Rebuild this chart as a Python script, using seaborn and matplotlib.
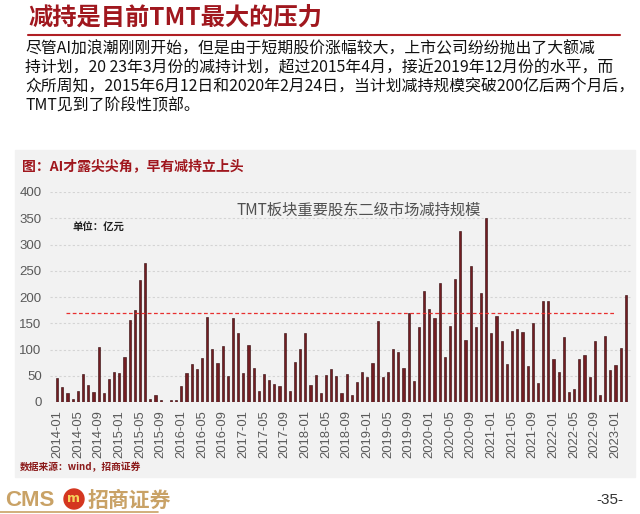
import matplotlib
matplotlib.use("Agg")
import matplotlib.pyplot as plt
from matplotlib.patches import Rectangle, Ellipse
from matplotlib.lines import Line2D
import seaborn as sns
import pandas as pd

# ---------------- data ----------------
months = [d.strftime("%Y-%m") for d in pd.date_range("2014-01-01", "2023-03-01", freq="MS")]
values = [
    46.5, 28, 18, 6, 21, 53, 33, 19, 105, 18, 43, 58, 55, 86, 157, 175, 232, 265,
    6, 13, 3, 0, 3, 3,
    30, 56, 72, 63, 83, 162, 101, 75, 106, 50, 160, 131, 55, 109, 64,
    21, 53, 42, 34, 31, 132, 21, 76, 101, 132, 33, 51, 17, 51, 62, 50, 17, 53,
    14, 38, 58, 48, 75, 155, 47, 57, 101, 95, 64, 169, 40, 143, 212, 177, 160, 227, 86, 144, 234,
    325, 118, 260, 143, 208, 351, 132, 164, 117, 72, 136, 140, 133, 69, 150, 36, 193, 193,
    81, 57, 123, 20, 25, 81, 90, 48, 116, 13, 126, 61, 71, 102, 204,
]
tick_labels = [
    "2014-01", "2014-05", "2014-09", "2015-01", "2015-05", "2015-09", "2016-01",
    "2016-05", "2016-09", "2017-01", "2017-05", "2017-09", "2018-01", "2018-05",
    "2018-09", "2019-01", "2019-05", "2019-09", "2020-01", "2020-05", "2020-09",
    "2021-01", "2021-05", "2021-09", "2022-01", "2022-05", "2022-09", "2023-01",
]
threshold = 170
y_ticks = [0, 50, 100, 150, 200, 250, 300, 350, 400]

page_title = "减持是目前TMT最大的压力"
body_lines = [
    "尽管AI加浪潮刚刚开始，但是由于短期股价涨幅较大，上市公司纷纷抛出了大额减",
    "持计划，20 23年3月份的减持计划，超过2015年4月，接近2019年12月份的水平，而",
    "众所周知，2015年6月12日和2020年2月24日，当计划减持规模突破200亿后两个月后，",
    "TMT见到了阶段性顶部。",
]
panel_title = "图：AI才露尖尖角，早有减持立上头"
chart_title = "TMT板块重要股东二级市场减持规模"
unit_label = "单位：亿元"
source_label = "数据来源：wind，招商证券"

# ---------------- style ----------------
sns.set_theme(style="white")
plt.rcParams["font.family"] = ["Noto Sans CJK SC", "DejaVu Sans"]

W, H = 640, 514
fig = plt.figure(figsize=(W / 100, H / 100), dpi=100)
fig.patch.set_facecolor("white")

def fx(px):
    return px / W

def fy(py):
    return 1 - py / H

# gray panel
fig.patches.append(Rectangle((fx(15), fy(477)), fx(620), 327 / H,
                             transform=fig.transFigure, color="#f2f2f2", zorder=-5))

ax = fig.add_axes([fx(50), fy(402), 582 / W, 210 / H])
ax.set_zorder(2)
ax.set_facecolor("#f2f2f2")

df = pd.DataFrame({"month": months, "value": values})
sns.barplot(data=df, x="month", y="value", ax=ax, color="#731d22",
            saturation=1, width=0.42, edgecolor="#2e0709", linewidth=0.4)

ax.set_xlim(-1.4, 111.2)
ax.set_ylim(0, 400)
ax.set_yticks(y_ticks)
ax.set_yticklabels([str(v) for v in y_ticks], fontsize=9.5, color="#595959",
                   family=["Liberation Sans", "DejaVu Sans"])
ax.set_xticks([months.index(t) for t in tick_labels])
ax.set_xticklabels(tick_labels, rotation=90, fontsize=9.4, color="#595959",
                   family=["Liberation Sans", "DejaVu Sans"])
ax.tick_params(axis="y", length=0, pad=6)
ax.tick_params(axis="x", length=0, pad=6)
ax.set_xlabel("")
ax.set_ylabel("")
for s in ax.spines.values():
    s.set_visible(False)
ax.yaxis.grid(True, linestyle=(0, (2, 2)), color="#d4d4d4", linewidth=0.8)
ax.xaxis.grid(False)
ax.set_axisbelow(True)

ax.hlines(threshold, 1.7, 107.7, colors="#e8302f", linestyles=(0, (3, 2)), linewidth=0.9, zorder=5)

ax.text(0.53, 0.915, chart_title, transform=ax.transAxes, ha="center", va="center",
        fontsize=11, color="#505050")
ax.text(0.038, 0.83, unit_label, transform=ax.transAxes, ha="left", va="center",
        fontsize=7.5, color="#222222", fontweight="bold")

# ---------------- page text ----------------
fig.text(fx(28), fy(18), page_title, color="#a0171e", fontsize=17.5, fontweight="bold",
         va="center", ha="left")
fig.add_artist(Line2D([fx(28), fx(620)], [fy(35), fy(35)], color="#b01f24", lw=1.5,
                      transform=fig.transFigure))
for i, line in enumerate(body_lines):
    fig.text(fx(25), fy(49 + i * 19), line, fontsize=11.4, color="#111111",
             va="center", ha="left")

fig.text(fx(22), fy(166), panel_title, color="#a0171e", fontsize=10, fontweight="bold",
         va="center", ha="left")
fig.text(fx(20), fy(467), source_label, color="#8b1a1a", fontsize=7, fontweight="bold",
         va="center", ha="left")

# ---------------- footer ----------------
gold = "#c9a266"
fig.text(fx(5), fy(500), "CMS", color=gold, fontsize=16, fontweight="bold",
         va="center", ha="left", family=["Liberation Sans", "DejaVu Sans"])
fig.add_artist(Ellipse((fx(74), fy(499)), 20 / W, 20 / H, transform=fig.transFigure,
                       color="#d4361f"))
fig.text(fx(74), fy(499), "m", color="#f6d35a", fontsize=9, fontweight="bold",
         va="center", ha="center", family=["DejaVu Sans"])
fig.text(fx(88), fy(500), "招商证券", color=gold, fontsize=15, fontweight="bold",
         va="center", ha="left")
fig.add_artist(Line2D([fx(0), fx(158)], [fy(512), fy(512)], color=gold, lw=1.2,
                      transform=fig.transFigure))
fig.text(fx(596), fy(500), "-35-", color="#333333", fontsize=11, va="center", ha="left",
         family=["Liberation Sans", "DejaVu Sans"])

fig.savefig("out.png", dpi=100, facecolor="white")
